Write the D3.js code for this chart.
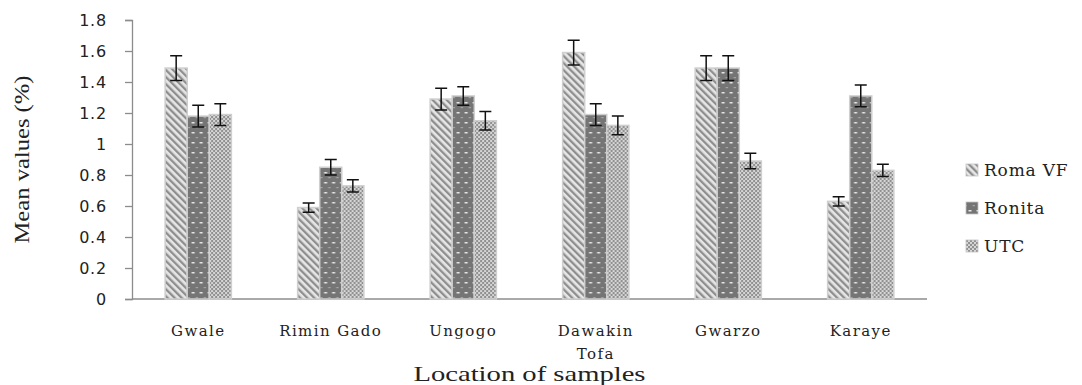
<!DOCTYPE html>
<html>
<head>
<meta charset="utf-8">
<script src="https://cdn.jsdelivr.net/npm/d3@7"></script>
<style>
  body { margin: 0; background: #fff; }
  svg { display: block; }
</style>
</head>
<body>
<svg id="chart" width="1082" height="385"></svg>
<script>
// values
var locations = ["Gwale", "Rimin Gado", "Ungogo", "Dawakin Tofa", "Gwarzo", "Karaye"];
var varieties = ["Roma VF", "Ronita", "UTC"];
var romaVF = [1.49, 0.59, 1.29, 1.59, 1.49, 0.63];
var ronita = [1.18, 0.85, 1.31, 1.19, 1.49, 1.31];
var utc    = [1.19, 0.73, 1.15, 1.12, 0.89, 0.83];
var romaErr   = [0.08, 0.03, 0.07, 0.08, 0.08, 0.03];
var ronitaErr = [0.07, 0.05, 0.06, 0.07, 0.08, 0.07];
var utcErr    = [0.07, 0.04, 0.06, 0.06, 0.05, 0.04];
var yTicks = [0, 0.2, 0.4, 0.6, 0.8, 1, 1.2, 1.4, 1.6, 1.8];

var series = [romaVF, ronita, utc];
var errors = [romaErr, ronitaErr, utcErr];

var svg = d3.select("#chart");
// plot box (note: "top" is taken by window.top)
var plotLeft = 132, plotRight = 927, plotTop = 20, plotBottom = 299;

var x0 = d3.scaleBand().domain(locations).range([plotLeft, plotRight])
    .paddingInner(0.5).paddingOuter(0.25);
var x1 = d3.scaleBand().domain(varieties).range([0, x0.bandwidth()]);
var y = d3.scaleLinear().domain([0, 1.8]).range([plotBottom, plotTop]);

// fill patterns
var defs = svg.append("defs");
var p1 = defs.append("pattern").attr("id", "pat0").attr("patternUnits", "userSpaceOnUse")
    .attr("width", 5).attr("height", 5).attr("patternTransform", "rotate(-45)");
p1.append("rect").attr("width", 5).attr("height", 5).attr("fill", "#e6e6e6");
p1.append("rect").attr("width", 2.3).attr("height", 5).attr("fill", "#8e8e8e");

var p2 = defs.append("pattern").attr("id", "pat1").attr("patternUnits", "userSpaceOnUse")
    .attr("width", 8).attr("height", 10);
p2.append("rect").attr("width", 8).attr("height", 10).attr("fill", "#747474");
p2.append("rect").attr("x", 2.5).attr("y", 2).attr("width", 3).attr("height", 1.5).attr("fill", "#e8e8e8");
p2.append("rect").attr("x", 6.5).attr("y", 7).attr("width", 1.5).attr("height", 1.2).attr("fill", "#a4a4a4");
p2.append("rect").attr("x", 0).attr("y", 7).attr("width", 1).attr("height", 1.2).attr("fill", "#a4a4a4");

var p3 = defs.append("pattern").attr("id", "pat2").attr("patternUnits", "userSpaceOnUse")
    .attr("width", 4).attr("height", 4);
p3.append("rect").attr("width", 4).attr("height", 4).attr("fill", "#909090");
p3.append("circle").attr("cx", 1).attr("cy", 1).attr("r", 1.1).attr("fill", "#dedede");
p3.append("circle").attr("cx", 3).attr("cy", 3).attr("r", 1.1).attr("fill", "#dedede");

// soft edge round the bars
var blur = defs.append("filter").attr("id", "soft")
    .attr("x", "-20%").attr("y", "-5%").attr("width", "140%").attr("height", "110%");
blur.append("feGaussianBlur").attr("stdDeviation", 0.6);

// y axis
var yAxis = d3.axisLeft(y).tickValues(yTicks).tickSize(7).tickPadding(18)
    .tickFormat(function(d) { return d3.format("")(d); });
var gy = svg.append("g").attr("transform", "translate(" + plotLeft + ",0)").call(yAxis);
gy.select(".domain").attr("stroke", "#8c8c8c").attr("stroke-width", 1.3);
gy.selectAll(".tick line").attr("stroke", "#8c8c8c").attr("stroke-width", 1.3);
gy.selectAll(".tick text").attr("font-family", "DejaVu Sans").attr("font-size", 16)
    .attr("letter-spacing", 0.8).attr("fill", "#222");

// x axis baseline
svg.append("line").attr("x1", plotLeft).attr("x2", plotRight)
    .attr("y1", plotBottom).attr("y2", plotBottom)
    .attr("stroke", "#8c8c8c").attr("stroke-width", 1.3);

// bars
var groups = svg.append("g").selectAll("g").data(locations).enter().append("g")
    .attr("transform", function(d) { return "translate(" + x0(d) + ",0)"; });

varieties.forEach(function(v, s) {
  groups.append("rect")
      .attr("x", x1(v))
      .attr("width", x1.bandwidth())
      .attr("y", function(d, i) { return y(series[s][i]); })
      .attr("height", function(d, i) { return plotBottom - y(series[s][i]); })
      .attr("fill", "url(#pat" + s + ")")
      .attr("stroke", "#cfcfcf").attr("stroke-width", 1.5)
      .attr("filter", "url(#soft)");
});

// error bars
varieties.forEach(function(v, s) {
  var cx = x1(v) + x1.bandwidth() / 2;
  groups.append("path")
      .attr("d", function(d, i) {
        var hi = y(series[s][i] + errors[s][i]), lo = y(series[s][i] - errors[s][i]);
        return "M" + (cx - 6) + "," + hi + "H" + (cx + 6) +
               "M" + cx + "," + hi + "V" + lo +
               "M" + (cx - 6) + "," + lo + "H" + (cx + 6);
      })
      .attr("fill", "none").attr("stroke", "#111").attr("stroke-width", 1.5);
});

// category labels
var catLabels = svg.append("g").selectAll("text").data(locations).enter().append("text")
    .attr("x", function(d) { return x0(d) + x0.bandwidth() / 2; })
    .attr("y", 336)
    .attr("text-anchor", "middle")
    .attr("font-family", "DejaVu Serif").attr("font-size", 15)
    .attr("letter-spacing", 1.4)
    .attr("fill", "#222");
catLabels.each(function(d) {
  var t = d3.select(this);
  var words = d === "Dawakin Tofa" ? ["Dawakin", "Tofa"] : [d];
  words.forEach(function(w, k) {
    t.append("tspan").attr("x", t.attr("x")).attr("dy", k ? 23 : 0).text(w);
  });
});

// axis titles
svg.append("text")
    .attr("transform", "translate(29," + ((plotTop + plotBottom) / 2) + ") rotate(-90)")
    .attr("text-anchor", "middle")
    .attr("font-family", "Liberation Serif").attr("font-size", 20)
    .attr("textLength", 168).attr("lengthAdjust", "spacingAndGlyphs")
    .attr("fill", "#222")
    .text("Mean values  (%)");

svg.append("text")
    .attr("x", (plotLeft + plotRight) / 2).attr("y", 381)
    .attr("text-anchor", "middle")
    .attr("font-family", "Liberation Serif").attr("font-size", 21)
    .attr("textLength", 232).attr("lengthAdjust", "spacingAndGlyphs")
    .attr("fill", "#222")
    .text("Location  of samples");

// legend
var legend = svg.append("g").selectAll("g").data(varieties).enter().append("g")
    .attr("transform", function(d, i) { return "translate(966," + (170 + i * 38) + ")"; });
legend.append("rect").attr("x", 0).attr("y", -6).attr("width", 12).attr("height", 12)
    .attr("fill", function(d, i) { return "url(#pat" + i + ")"; })
    .attr("stroke", "#c4c4c4").attr("stroke-width", 0.8);
legend.append("text").attr("x", 18).attr("y", 6)
    .attr("font-family", "DejaVu Serif").attr("font-size", 17)
    .attr("letter-spacing", 0.8)
    .attr("fill", "#222")
    .text(function(d) { return d; });
</script>
</body>
</html>
